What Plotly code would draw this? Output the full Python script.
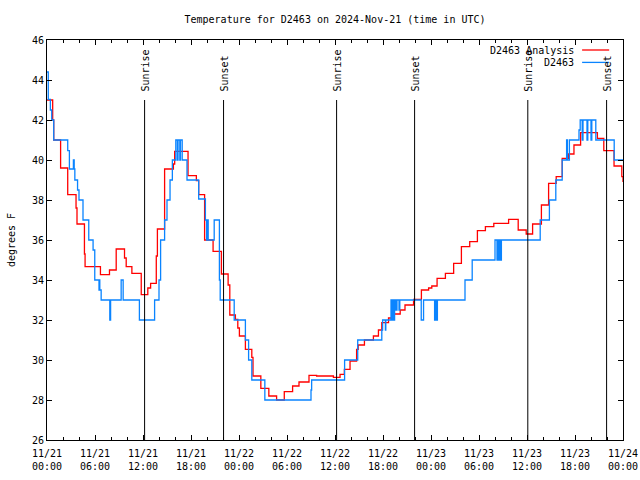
import pandas as pd
import plotly.graph_objects as go

# ---------------- data ----------------
start = "2024-11-21 00:00"

# D2463 Analysis (red) : hours since start, temperature F
red_hours = [0.0, 0.71, 0.84, 1.70, 2.59, 3.63, 3.75, 4.68, 4.76, 6.68, 7.81, 8.65, 9.69, 9.90,
             10.61, 11.78, 12.60, 12.95, 13.66, 13.80, 14.70, 15.80, 15.96, 17.63, 18.67, 18.96,
             19.70, 20.76, 21.80, 22.64, 22.85, 23.55, 23.85, 24.05, 24.80, 25.60, 25.75, 26.73,
             27.73, 28.70, 29.66, 30.70, 31.50, 32.75, 33.70, 35.80, 36.63, 37.17, 37.88, 38.70,
             38.90, 39.68, 40.80, 41.43, 41.85, 42.69, 43.10, 44.15, 44.75, 45.82, 46.80, 47.70,
             48.10, 48.76, 49.80, 50.83, 51.80, 52.84, 53.80, 54.80, 55.85, 57.70, 58.90, 59.90,
             60.70, 61.80, 62.70, 63.65, 64.40, 65.17, 65.87, 66.70, 68.80, 69.60, 70.88, 71.85,
             72.0]
red_temp = [43.0, 42.0, 41.0, 39.6, 38.27, 37.6, 36.8, 35.3, 34.67, 34.27, 34.5, 35.55, 35.1, 34.67,
            34.33, 33.27, 33.6, 33.83, 35.2, 36.55, 39.55, 39.8, 40.43, 39.22, 38.97, 38.27,
            36.0, 35.43, 34.3, 33.75, 32.25, 32.03, 31.6, 31.2, 30.53, 30.13, 29.2, 28.58,
            28.2, 28.0, 28.42, 28.7, 28.9, 29.23, 29.2, 29.13, 29.28, 29.53, 29.95, 30.53,
            30.75, 31.0, 31.2, 31.5, 31.87, 32.1, 32.3, 32.5, 32.75, 33.03, 33.5, 33.6,
            33.7, 34.08, 34.33, 34.83, 35.67, 35.92, 36.47, 36.67, 36.83, 37.03, 36.5, 36.3,
            36.8, 37.75, 38.83, 39.17, 40.08, 40.3, 40.75, 41.37, 41.08, 40.47, 39.7, 39.17,
            38.9]

# D2463 observations (blue)
blue_hours = [0.0, 0.16, 0.42, 0.59, 0.84, 2.59, 2.80, 3.30, 3.40, 3.48, 3.82, 4.00, 4.50, 5.22,
              5.76, 5.97, 6.50, 6.55, 6.60, 6.77, 7.85, 7.95, 9.27, 9.52, 11.55, 13.45, 14.00,
              14.20, 14.70, 15.00, 15.38, 15.67, 16.10, 16.30, 16.38, 16.60, 16.68, 16.90, 17.50,
              18.96, 19.80, 19.95, 20.05, 20.15, 20.90, 21.55, 21.65, 23.40, 24.80, 25.20, 25.60,
              27.23, 33.00, 33.08, 37.20, 38.84, 41.85, 41.95, 42.30, 42.35, 43.00, 43.10, 43.20,
              43.30, 43.45, 43.60, 43.75, 44.00, 44.10, 46.78, 47.07, 48.45, 48.55, 48.65, 48.80,
              52.25, 53.15, 56.00, 56.25, 56.35, 56.45, 56.55, 56.70, 56.80, 61.65, 62.80, 63.60,
              64.40, 64.95, 65.05, 65.30, 66.50, 66.65, 66.90, 67.00, 67.50, 67.60, 68.00, 68.10,
              68.60, 70.90, 72.0]
blue_temp = [44.4, 43.03, 42.5, 42.0, 41.0, 40.47, 39.55, 40.0, 39.55, 39.0, 38.5, 38.0, 37.0, 36.0,
             35.5, 34.0, 33.5, 34.0, 33.5, 33.0, 32.0, 33.0, 34.0, 33.0, 32.0, 33.0, 34.0,
             36.0, 37.0, 38.0, 39.0, 40.0, 41.0, 40.0, 41.0, 40.0, 41.0, 40.0, 39.0,
             38.05, 37.0, 36.0, 37.0, 36.0, 37.0, 34.0, 33.0, 32.0, 31.0, 30.0, 29.0,
             28.0, 28.5, 29.0, 30.0, 31.0, 31.5, 32.0, 31.5, 32.0, 33.0, 32.0, 33.0,
             32.0, 33.0, 32.5, 33.0, 32.5, 33.0, 32.0, 33.0, 32.0, 33.0, 32.0, 33.0,
             34.0, 35.0, 36.0, 35.0, 36.0, 35.0, 36.0, 35.0, 36.0, 37.0, 38.0, 39.0,
             40.0, 41.0, 40.0, 41.0, 41.5, 42.0, 41.0, 42.0, 41.0, 42.0, 41.0, 42.0,
             41.0, 40.0, 40.0]

sun_hours = [12.20, 22.07, 36.20, 45.95, 60.10, 69.95]
sun_labels = ["Sunrise", "Sunset", "Sunrise", "Sunset", "Sunrise", "Sunset"]

tick_hours = [0, 6, 12, 18, 24, 30, 36, 42, 48, 54, 60, 66, 72]
tick_labels = ["11/21<br>00:00", "11/21<br>06:00", "11/21<br>12:00", "11/21<br>18:00",
               "11/22<br>00:00", "11/22<br>06:00", "11/22<br>12:00", "11/22<br>18:00",
               "11/23<br>00:00", "11/23<br>06:00", "11/23<br>12:00", "11/23<br>18:00",
               "11/24<br>00:00"]

# ---------------- figure ----------------
base = pd.Timestamp(start)
def to_time(h):
    return list(base + pd.to_timedelta(h, unit="h"))

FONT = "DejaVu Sans Mono"
RED = "#ff0000"
BLUE = "#0a84ff"

fig = go.Figure()
fig.add_trace(go.Scatter(x=to_time(red_hours), y=red_temp, mode="lines", name="D2463 Analysis",
                         line=dict(color=RED, width=1.3, shape="hv")))
fig.add_trace(go.Scatter(x=to_time(blue_hours), y=blue_temp, mode="lines", name="D2463",
                         line=dict(color=BLUE, width=1.3, shape="hv")))

sun_times = to_time(sun_hours)
for t, lab in zip(sun_times, sun_labels):
    fig.add_shape(type="line", xref="x", yref="y", x0=t, x1=t, y0=26, y1=43,
                  line=dict(color="black", width=1))
    fig.add_annotation(x=t, y=43.3, xref="x", yref="y", text=lab, textangle=-90,
                       showarrow=False, xanchor="center", yanchor="bottom",
                       font=dict(family=FONT, size=10, color="black"))

# gnuplot-style key (text left, sample right)
legend_rows = [("D2463 Analysis", RED, 0.975), ("D2463", BLUE, 0.944)]
for name, col, yy in legend_rows:
    fig.add_annotation(x=0.918, y=yy, xref="paper", yref="paper", text=name, showarrow=False,
                       xanchor="right", yanchor="middle",
                       font=dict(family=FONT, size=10, color="black"))
    fig.add_shape(type="line", xref="paper", yref="paper", x0=0.929, x1=0.976, y0=yy, y1=yy,
                  line=dict(color=col, width=1.3))

fig.update_layout(
    width=640, height=480,
    margin=dict(l=47, r=17, t=40, b=40, autoexpand=False),
    paper_bgcolor="white", plot_bgcolor="white",
    showlegend=False,
    font=dict(family=FONT, size=10, color="black"),
    title=dict(text="Temperature for D2463 on 2024-Nov-21 (time in UTC)",
               xref="paper", x=0.5, xanchor="center",
               yref="container", y=0.96, yanchor="middle",
               font=dict(family=FONT, size=10, color="black")),
)
fig.update_xaxes(
    type="date", automargin=False,
    range=[to_time([0])[0], to_time([72])[0]],
    tickmode="array", tickvals=to_time(tick_hours), ticktext=tick_labels,
    ticks="inside", ticklen=5, tickcolor="black", ticklabelstandoff=4,
    minor=dict(ticks="inside", ticklen=3, tickcolor="black", dtick=2 * 3600 * 1000,
               tick0=start, showgrid=False),
    showline=True, linecolor="black", linewidth=1, mirror="ticks",
    showgrid=False, zeroline=False,
    tickfont=dict(family=FONT, size=10, color="black"),
)
fig.update_yaxes(
    range=[26, 46], dtick=2, tick0=26, automargin=False,
    ticks="inside", ticklen=5, tickcolor="black",
    showline=True, linecolor="black", linewidth=1, mirror="ticks",
    showgrid=False, zeroline=False,
    title=dict(text="degrees F", font=dict(family=FONT, size=10, color="black"), standoff=14),
    tickfont=dict(family=FONT, size=10, color="black"),
)

fig.write_html("out.html", config={"displayModeBar": False},
               post_script="document.body.style.margin='0px';")
